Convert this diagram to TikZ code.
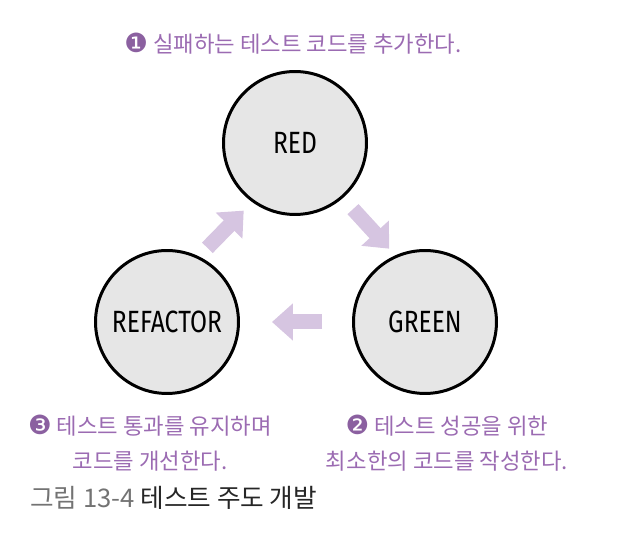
\documentclass[tikz,border=0pt]{standalone}
\usepackage{xcolor}
\usepackage{fontspec}
\usepackage{tikz}
\usetikzlibrary{arrows.meta}
\usetikzlibrary{positioning}
\setmainfont{Noto Sans CJK KR}
\newfontfamily\hanfont{Noto Sans CJK KR}
\newfontfamily\stepfont[FakeStretch=0.8]{Fira Sans}
\newfontfamily\dingfont{DejaVu Sans}
\definecolor{tddpurple}{HTML}{9B6BB2}
\definecolor{tddarrow}{HTML}{D6C5E1}
\definecolor{tddfill}{HTML}{E6E6E6}
\tikzset{
phase/.style = { circle, draw = black, fill = tddfill, line width = 1.7pt, minimum size = 2.86cm, inner sep = 0pt, font = \stepfont\fontsize{17.5}{20}\selectfont },
flow/.style = { draw = tddarrow, line width = 0.3cm, -{Triangle[length = 0.42cm, width = 0.72cm]} },
note/.style = { text = tddpurple, align = center, font = \hanfont\fontsize{12.7}{20}\selectfont },
}
\newcommand{\stepno}[1]{{\dingfont\fontsize{15}{20}\selectfont\color{tddpurple!90!black}#1}}

\begin{document}
\begin{tikzpicture}[x = 0.02cm, y = -0.02cm]
    \useasboundingbox (0, 0) rectangle (637, 540);
    \node[phase] (red) at (295, 143) {RED};
    \node[phase] (green) at (425, 322) {GREEN};
    \node[phase] (refactor) at (167, 322) {REFACTOR};
    % cycle arrows
    \draw[flow, shorten <= 0.3cm, shorten >= 0.18cm] (red.-49) -- (green.114);
    \draw[flow, shorten <= 0.6cm, shorten >= 0.64cm] (green.west) -- (refactor.east);
    \draw[flow, shorten <= 0.24cm, shorten >= 0.24cm] (refactor.64) -- (red.234);
    \node[note] (add) at (293, 44) {\stepno{❶} 실패하는 테스트 코드를 추가한다.};
    \node[note] (pass) at (447, 443) {\stepno{❷} 테스트 성공을 위한\\최소한의 코드를 작성한다.};
    \node[note] (clean) at (150, 443) {\stepno{❸} 테스트 통과를 유지하며\\코드를 개선한다.};
    \node[anchor = west, font = \hanfont\fontsize{14.6}{17}\selectfont] (caption) at (24, 498) {\textcolor{black!55}{그림 13-4} \textcolor{black!85}{테스트 주도 개발}};
\end{tikzpicture}
\end{document}
